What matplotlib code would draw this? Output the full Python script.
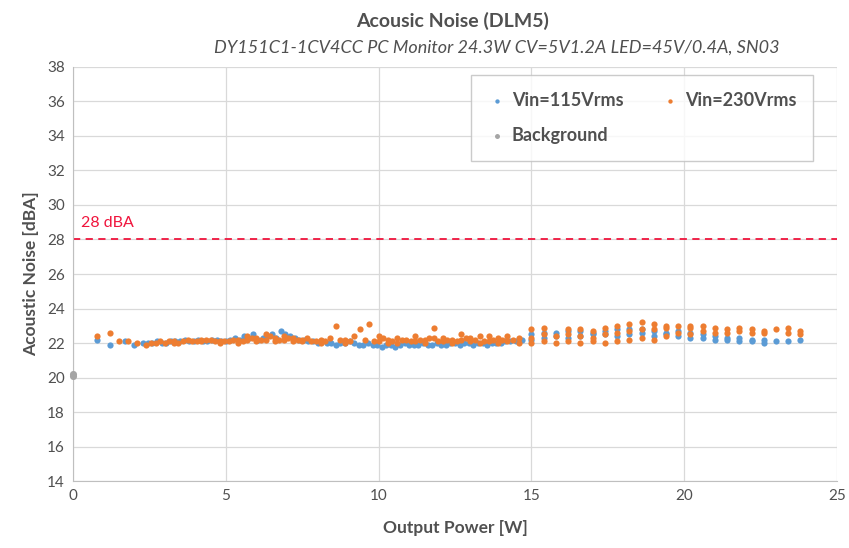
import matplotlib.pyplot as plt

# Vin = 115 Vrms
p115 = [0.8, 1.2, 1.7, 2.0, 2.3, 2.6, 2.9, 3.2, 3.5, 3.8, 4.1, 4.4, 4.7, 5.0,
        5.3, 5.6, 5.9, 6.2, 6.5, 6.8, 7.1, 7.4, 7.7, 8.0, 8.3, 8.6, 8.9, 9.2,
        9.5, 9.8, 10.1, 10.4, 10.7, 11.0, 11.3, 11.6, 11.9, 12.2, 12.5, 12.8,
        13.1, 13.4, 13.7, 14.0, 14.3, 14.7,
        2.45, 2.75, 3.05, 3.35, 3.65, 3.95, 4.25, 4.55, 4.85, 5.15, 5.45, 5.75,
        6.05, 6.35, 6.65, 6.95, 7.25, 7.55, 7.85, 8.15, 8.45, 8.75, 9.05, 9.35,
        9.65, 9.95, 10.25, 10.55, 10.85, 11.15, 11.45, 11.75, 12.05, 12.35, 12.65,
        12.95, 13.25, 13.55, 13.85, 14.15, 14.5,
        15.0, 15.0, 15.4, 15.4, 15.8, 15.8, 16.2, 16.2, 16.6, 16.6, 17.0, 17.0,
        17.4, 17.4, 17.8, 17.8, 18.2, 18.2, 18.6, 18.6, 19.0, 19.0, 19.4, 19.4,
        19.8, 19.8, 20.2, 20.2, 20.6, 20.6, 21.0, 21.0, 21.4, 21.4, 21.8, 21.8,
        22.2, 22.2, 22.6, 22.6, 23.0, 23.4, 23.8]
n115 = [22.2, 21.9, 22.1, 21.9, 22.0, 22.0, 22.0, 22.1, 22.1, 22.1, 22.2, 22.1, 22.2, 22.1,
        22.3, 22.4, 22.5, 22.3, 22.5, 22.7, 22.4, 22.2, 22.1, 22.0, 22.0, 21.9, 22.0, 22.0,
        21.9, 21.9, 21.8, 21.9, 21.9, 21.9, 21.9, 21.9, 22.0, 21.9, 22.0, 22.0,
        21.9, 22.0, 22.0, 22.0, 22.1, 22.2,
        22.0, 22.1, 22.0, 22.1, 22.2, 22.1, 22.1, 22.2, 22.1, 22.2, 22.2, 22.3,
        22.2, 22.4, 22.3, 22.5, 22.3, 22.2, 22.1, 22.1, 22.0, 22.0, 22.1, 21.9,
        22.0, 21.9, 21.9, 21.8, 22.0, 21.9, 22.0, 21.9, 21.9, 22.0, 21.9,
        22.0, 22.0, 21.9, 22.0, 22.1, 22.1,
        22.2, 22.5, 22.3, 22.6, 22.4, 22.6, 22.3, 22.7, 22.4, 22.7, 22.5, 22.6,
        22.5, 22.7, 22.4, 22.8, 22.5, 22.8, 22.6, 22.8, 22.4, 22.7, 22.5, 22.6,
        22.4, 22.7, 22.3, 22.6, 22.3, 22.5, 22.2, 22.4, 22.2, 22.3, 22.1, 22.3,
        22.1, 22.2, 22.0, 22.2, 22.1, 22.1, 22.2]

# Vin = 230 Vrms
p230 = [0.8, 1.2, 1.5, 1.8, 2.1, 2.4, 2.7, 3.0, 3.3, 3.3, 3.6, 3.9, 4.2, 4.2,
        4.5, 4.8, 4.8, 5.1, 5.4, 5.4, 5.7, 5.7, 6.0, 6.0, 6.3, 6.3, 6.6, 6.6,
        6.9, 6.9, 7.2, 7.2, 7.5, 7.5, 7.8, 8.1, 8.1, 8.4, 8.6, 8.9, 8.9, 9.2,
        9.4, 9.7, 10.0, 10.0, 10.3, 10.3, 10.6, 10.6, 10.9, 11.2, 11.2, 11.5, 11.5,
        11.8, 11.8, 12.1, 12.1, 12.4, 12.4, 12.7, 12.7, 13.0, 13.0, 13.3, 13.3,
        13.6, 13.6, 13.9, 13.9, 14.2, 14.2, 14.6, 14.6,
        2.55, 2.85, 3.15, 3.45, 3.75, 4.05, 4.35, 4.65, 4.95, 5.25, 5.55, 5.85,
        6.15, 6.45, 6.75, 7.05, 7.35, 7.65, 7.95, 8.25, 8.75, 9.05, 9.55, 9.85,
        10.15, 10.45, 10.75, 11.05, 11.35, 11.65, 11.95, 12.25, 12.55, 12.85,
        13.15, 13.45, 13.75, 14.05, 14.4,
        15.0, 15.0, 15.0, 15.4, 15.4, 15.4, 15.8, 15.8, 16.2, 16.2, 16.2,
        16.6, 16.6, 16.6, 17.0, 17.0, 17.0, 17.4, 17.4, 17.4, 17.8, 17.8, 17.8,
        18.2, 18.2, 18.2, 18.6, 18.6, 18.6, 19.0, 19.0, 19.0, 19.4, 19.4, 19.4,
        19.8, 19.8, 20.2, 20.2, 20.2, 20.6, 20.6, 21.0, 21.0, 21.4, 21.4,
        21.8, 21.8, 22.2, 22.2, 22.6, 22.6, 23.0, 23.4, 23.4, 23.8, 23.8]
n230 = [22.4, 22.6, 22.1, 22.1, 22.0, 21.9, 22.0, 22.0, 22.1, 22.0, 22.1, 22.1, 22.2, 22.1,
        22.2, 22.1, 22.0, 22.1, 22.2, 22.0, 22.2, 22.4, 22.1, 22.3, 22.2, 22.5, 22.3, 22.1,
        22.4, 22.2, 22.3, 22.1, 22.2, 22.1, 22.1, 22.2, 22.0, 22.3, 23.0, 22.2, 22.0, 22.4,
        22.8, 23.1, 22.1, 22.4, 22.0, 22.2, 22.3, 22.0, 22.2, 22.1, 22.4, 22.0, 22.2,
        22.3, 22.9, 22.1, 22.3, 22.0, 22.2, 22.2, 22.5, 22.1, 22.3, 22.0, 22.4,
        22.1, 22.4, 22.0, 22.3, 22.1, 22.4, 22.0, 22.3,
        22.0, 22.1, 22.1, 22.0, 22.2, 22.1, 22.2, 22.1, 22.1, 22.2, 22.1, 22.3,
        22.2, 22.4, 22.2, 22.3, 22.2, 22.3, 22.1, 22.1, 22.2, 22.1, 22.2, 22.1,
        22.3, 22.1, 22.2, 22.1, 22.2, 22.3, 22.1, 22.2, 22.1, 22.3,
        22.2, 22.1, 22.2, 22.2, 22.2,
        22.0, 22.3, 22.8, 22.1, 22.5, 22.9, 22.0, 22.4, 22.1, 22.5, 22.8,
        22.0, 22.4, 22.8, 22.1, 22.3, 22.7, 22.0, 22.5, 22.9, 22.1, 22.6, 23.0,
        22.2, 22.7, 23.1, 22.3, 22.8, 23.2, 22.2, 22.8, 23.1, 22.4, 22.9, 23.0,
        22.6, 23.0, 22.5, 22.9, 23.0, 22.7, 23.0, 22.6, 22.9, 22.6, 22.8,
        22.7, 22.9, 22.6, 22.8, 22.6, 22.7, 22.8, 22.6, 22.9, 22.7, 22.5]

# background noise
p_bg = [0.0, 0.0]
n_bg = [20.1, 20.2]

limit = 28

plt.rcParams['font.family'] = ['Lato', 'DejaVu Sans']
txt = "#505050"

fig = plt.figure(figsize=(8.49, 5.48), dpi=100)
ax = fig.add_axes([0.086, 0.122, 0.9, 0.756])

h1 = ax.scatter(p115, n115, s=20, color="#5B9BD5", label="Vin=115Vrms", zorder=3, linewidths=0)
h2 = ax.scatter(p230, n230, s=20, color="#ED7D31", label="Vin=230Vrms", zorder=4, linewidths=0)
h3 = ax.scatter(p_bg, n_bg, s=26, color="#A5A5A5", label="Background", zorder=5,
                linewidths=0, clip_on=False)

ax.axhline(limit, color="#F0143C", linestyle=(0, (4, 3)), linewidth=1.3, zorder=2)
ax.text(0.25, 28.75, "28 dBA", color="#F0143C", fontsize=11.5)

ax.set_xlim(0, 25)
ax.set_ylim(14, 38)
ax.set_xticks(range(0, 26, 5))
ax.set_yticks(range(14, 39, 2))
ax.grid(True, color="#D9D9D9", linewidth=0.9)
ax.set_axisbelow(True)
for s in ["top", "right"]:
    ax.spines[s].set_visible(False)
for s in ["left", "bottom"]:
    ax.spines[s].set_color("#BFBFBF")
ax.tick_params(colors=txt, labelsize=11, length=0, pad=6)

ax.set_xlabel("Output Power [W]", fontsize=12.5, fontweight="bold", color=txt, labelpad=12)
ax.set_ylabel("Acoustic Noise [dBA]", fontsize=12.5, fontweight="bold", color=txt, labelpad=6)

fig.text(0.533, 0.962, "Acousic Noise (DLM5)", ha="center", va="center",
         fontsize=14, fontweight="bold", color=txt)
fig.text(0.585, 0.914, "DY151C1-1CV4CC PC Monitor 24.3W CV=5V1.2A LED=45V/0.4A, SN03",
         ha="center", va="center", fontsize=13, style="italic", color=txt)

leg = ax.legend([h1, h3, h2], ["Vin=115Vrms", "Background", "Vin=230Vrms"],
                ncol=2, loc="upper right", bbox_to_anchor=(0.969, 0.981),
                borderaxespad=0,
                fontsize=13, frameon=True, fancybox=False, edgecolor="#BFBFBF",
                markerscale=0.7, handletextpad=0.3, columnspacing=2.1,
                labelspacing=1.0, borderpad=0.95, handlelength=1.0)
for t in leg.get_texts():
    t.set_color(txt)
    t.set_fontweight("bold")

fig.savefig("out.png", dpi=100)
